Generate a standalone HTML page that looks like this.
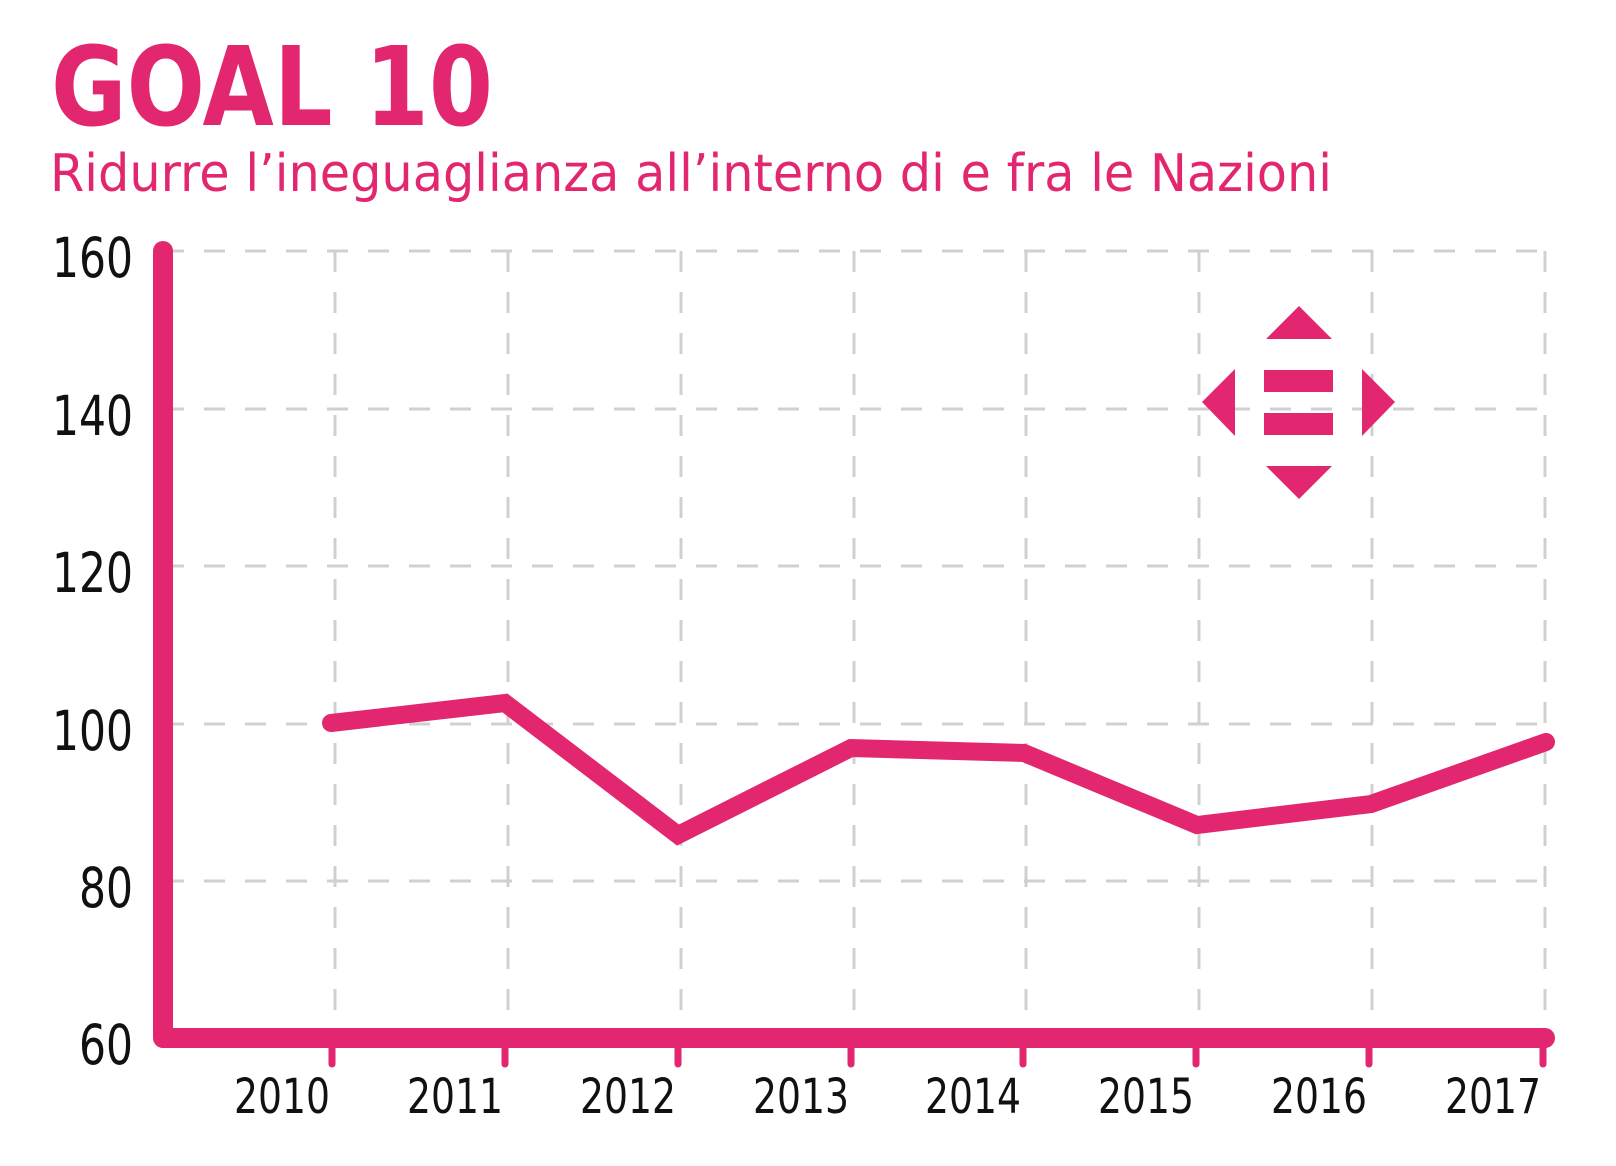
<!DOCTYPE html>
<html><head><meta charset="utf-8"><style>html,body{margin:0;padding:0;background:#fff}svg{display:block}</style></head>
<body>
<svg width="1616" height="1166" viewBox="0 0 1616 1166" xmlns="http://www.w3.org/2000/svg" font-family="'DejaVu Sans','Liberation Sans',sans-serif">
<text x="51" y="125" font-size="110" font-weight="bold" fill="#E2266F" textLength="442" lengthAdjust="spacingAndGlyphs">GOAL 10</text>
<text x="50" y="191" font-size="52" fill="#E2266F" textLength="1282" lengthAdjust="spacingAndGlyphs">Ridurre l’ineguaglianza all’interno di e fra le Nazioni</text>
<g stroke="#d0d0d0" stroke-width="3" stroke-dasharray="21,20" fill="none">
<line x1="163" y1="251" x2="1550" y2="251"/>
<line x1="163" y1="409" x2="1550" y2="409"/>
<line x1="163" y1="566" x2="1550" y2="566"/>
<line x1="163" y1="724" x2="1550" y2="724"/>
<line x1="163" y1="881" x2="1550" y2="881"/>
<line x1="335" y1="251" x2="335" y2="1038"/>
<line x1="508" y1="251" x2="508" y2="1038"/>
<line x1="681" y1="251" x2="681" y2="1038"/>
<line x1="854" y1="251" x2="854" y2="1038"/>
<line x1="1026" y1="251" x2="1026" y2="1038"/>
<line x1="1199" y1="251" x2="1199" y2="1038"/>
<line x1="1372" y1="251" x2="1372" y2="1038"/>
<line x1="1545" y1="251" x2="1545" y2="1038"/>
</g>
<g stroke="#E2266F" stroke-width="7" stroke-linecap="round">
<line x1="332" y1="1040" x2="332" y2="1064"/>
<line x1="505" y1="1040" x2="505" y2="1064"/>
<line x1="678" y1="1040" x2="678" y2="1064"/>
<line x1="851" y1="1040" x2="851" y2="1064"/>
<line x1="1023" y1="1040" x2="1023" y2="1064"/>
<line x1="1196" y1="1040" x2="1196" y2="1064"/>
<line x1="1369" y1="1040" x2="1369" y2="1064"/>
<line x1="1543" y1="1040" x2="1543" y2="1064"/>
</g>
<polyline points="163,251 163,1038 1545,1038" fill="none" stroke="#E2266F" stroke-width="20" stroke-linecap="round" stroke-linejoin="round"/>
<polyline points="331,723 505,703 678,835 851,748 1024,753 1197,825 1371,804 1546,742" fill="none" stroke="#E2266F" stroke-width="18" stroke-linecap="round" stroke-linejoin="miter"/>
<g fill="#E2266F">
<polygon points="1299,306 1332,339 1266,339"/>
<rect x="1264" y="370" width="69" height="22"/>
<rect x="1264" y="413" width="69" height="22"/>
<polygon points="1266,466 1332,466 1299,499"/>
<polygon points="1235,369 1235,436 1202,402"/>
<polygon points="1362,369 1362,436 1395,402"/>
</g>
<g font-size="55" fill="#111">
<text x="52" y="277" textLength="81" lengthAdjust="spacingAndGlyphs">160</text>
<text x="52" y="435" textLength="81" lengthAdjust="spacingAndGlyphs">140</text>
<text x="52" y="592" textLength="81" lengthAdjust="spacingAndGlyphs">120</text>
<text x="52" y="750" textLength="81" lengthAdjust="spacingAndGlyphs">100</text>
<text x="79" y="907" textLength="54" lengthAdjust="spacingAndGlyphs">80</text>
<text x="79" y="1064" textLength="54" lengthAdjust="spacingAndGlyphs">60</text>
</g>
<g font-size="48" fill="#111">
<text x="234" y="1113" textLength="96" lengthAdjust="spacingAndGlyphs">2010</text>
<text x="407" y="1113" textLength="96" lengthAdjust="spacingAndGlyphs">2011</text>
<text x="580" y="1113" textLength="96" lengthAdjust="spacingAndGlyphs">2012</text>
<text x="753" y="1113" textLength="96" lengthAdjust="spacingAndGlyphs">2013</text>
<text x="925" y="1113" textLength="96" lengthAdjust="spacingAndGlyphs">2014</text>
<text x="1098" y="1113" textLength="96" lengthAdjust="spacingAndGlyphs">2015</text>
<text x="1271" y="1113" textLength="96" lengthAdjust="spacingAndGlyphs">2016</text>
<text x="1445" y="1113" textLength="96" lengthAdjust="spacingAndGlyphs">2017</text>
</g>
</svg>
</body></html>
